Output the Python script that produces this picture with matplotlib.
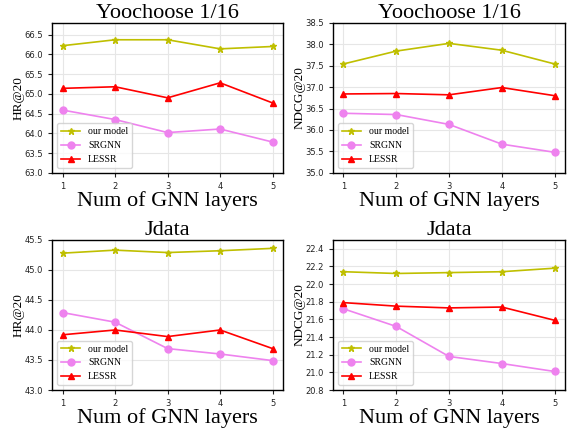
import matplotlib
matplotlib.use('Agg')
import matplotlib.pyplot as plt
import numpy as np

layers = [1, 2, 3, 4, 5]
names = ['our model', 'SRGNN', 'LESSR']

yoo_hr_ours = [66.22, 66.37, 66.37, 66.14, 66.20]
yoo_hr_srgnn = [64.59, 64.35, 64.02, 64.11, 63.78]
yoo_hr_lessr = [65.14, 65.18, 64.90, 65.28, 64.77]

yoo_ndcg_ours = [37.54, 37.84, 38.02, 37.86, 37.54]
yoo_ndcg_srgnn = [36.39, 36.36, 36.13, 35.67, 35.48]
yoo_ndcg_lessr = [36.84, 36.85, 36.82, 36.99, 36.80]

jd_hr_ours = [45.28, 45.33, 45.29, 45.32, 45.36]
jd_hr_srgnn = [44.29, 44.13, 43.69, 43.60, 43.49]
jd_hr_lessr = [43.92, 44.00, 43.89, 44.00, 43.69]

jd_ndcg_ours = [22.14, 22.12, 22.13, 22.14, 22.18]
jd_ndcg_srgnn = [21.72, 21.52, 21.18, 21.10, 21.01]
jd_ndcg_lessr = [21.79, 21.75, 21.73, 21.74, 21.59]

serif = 'Liberation Serif'

fig = plt.figure(figsize=(5.79, 4.30), dpi=100)

panels = [
    ([0.090, 0.598, 0.399, 0.349], 'Yoochoose 1/16', 'HR@20',
     (yoo_hr_ours, yoo_hr_srgnn, yoo_hr_lessr), (63.0, 66.8), 0.5),
    ([0.575, 0.598, 0.401, 0.349], 'Yoochoose 1/16', 'NDCG@20',
     (yoo_ndcg_ours, yoo_ndcg_srgnn, yoo_ndcg_lessr), (35.0, 38.5), 0.5),
    ([0.090, 0.093, 0.399, 0.349], 'Jdata', 'HR@20',
     (jd_hr_ours, jd_hr_srgnn, jd_hr_lessr), (43.0, 45.5), 0.5),
    ([0.575, 0.093, 0.401, 0.349], 'Jdata', 'NDCG@20',
     (jd_ndcg_ours, jd_ndcg_srgnn, jd_ndcg_lessr), (20.8, 22.5), 0.2),
]

styles = [('#bfbf00', '*'), ('violet', 'o'), ('red', '^')]

for rect, title, ylabel, series, ylim, step in panels:
    ax = fig.add_axes(rect)
    for vals, name, (c, m) in zip(series, names, styles):
        ax.plot(layers, vals, color=c, marker=m, markersize=5, linewidth=1.2, label=name)
    ax.set_ylim(*ylim)
    ax.set_yticks(np.round(np.arange(ylim[0], ylim[1] + 1e-6, step), 2))
    ax.set_xticks(layers)
    ax.tick_params(labelsize=6, length=3, colors='#222222', labelcolor='#222222')
    ax.grid(True, color='#e6e6e6', linewidth=0.8)
    ax.set_axisbelow(True)
    ax.set_title(title, fontsize=16, family=serif, pad=0.5)
    ax.set_xlabel('Num of GNN layers', fontsize=16, family=serif, labelpad=0)
    ax.set_ylabel(ylabel, fontsize=9.5, family=serif, labelpad=0)
    for s in ax.spines.values():
        s.set_linewidth(1.0)
    ax.legend(loc='lower left', prop={'family': serif, 'size': 7}, handlelength=2)

fig.savefig('out.png', dpi=100)
